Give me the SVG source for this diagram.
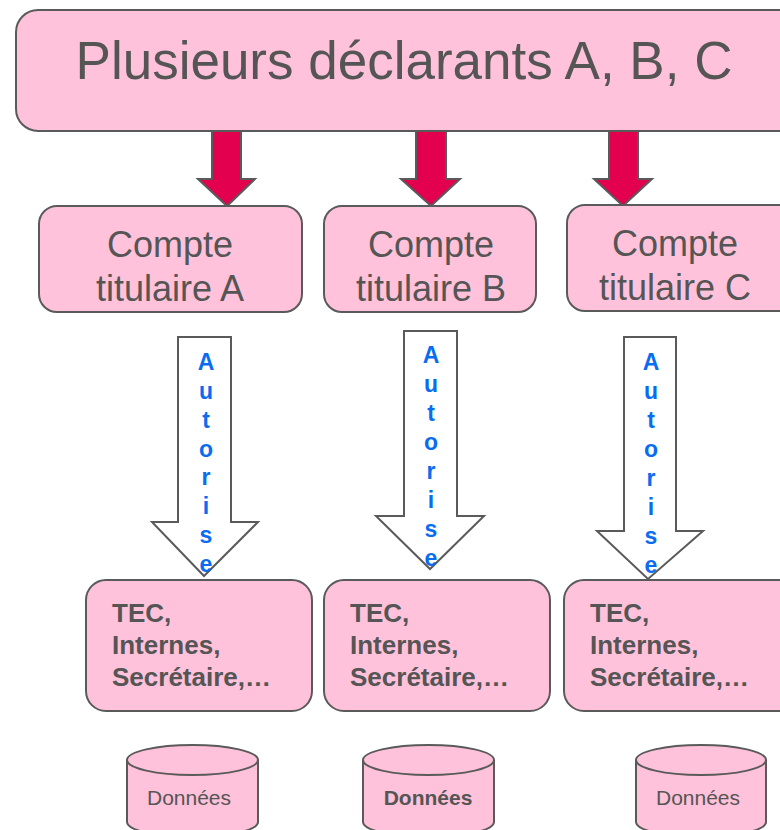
<svg xmlns="http://www.w3.org/2000/svg" width="780" height="830" viewBox="0 0 780 830">
<style>
.box{fill:#FFC2DA;stroke:#5a5a5a;stroke-width:2}
.red{fill:#E2004F;stroke:#5a5a5a;stroke-width:2;stroke-linejoin:miter}
.hol{fill:#ffffff;stroke:#5a5a5a;stroke-width:2}
.t{font-family:"Liberation Sans",Arial,sans-serif;fill:#555555}
.big{font-size:53px}
.mid{font-size:36px;text-anchor:middle}
.bold{font-size:26px;font-weight:bold}
.aut{font-family:"Liberation Sans",Arial,sans-serif;fill:#0A6CF0;font-size:23px;font-weight:bold;text-anchor:middle}
.db{font-size:21px;text-anchor:middle}
</style>
<rect width="780" height="830" fill="#ffffff"/>
<g id="declarants">
<rect class="box" x="16" y="10" width="786" height="121" rx="22"/>
<text class="t big" x="404" y="79" text-anchor="middle">Plusieurs déclarants A, B, C</text>
</g>
<g id="connectors">
<polygon class="red" points="212,131 241,131 241,179 255,179 227,206 198,179 212,179"/>
<polygon class="red" points="416,131 446,131 446,179 460,179 431,206 401,179 416,179"/>
<polygon class="red" points="609,131 638,131 638,179 652,179 623,206 594,179 609,179"/>
<polygon class="hol" points="178,337 231,337 231,522 258,522 204,576 152,522 178,522"/>
<polygon class="hol" points="404,331 457,331 457,516 484,516 430,569 376,516 404,516"/>
<polygon class="hol" points="624,337 676,337 676,531 703,531 648,579 597,531 624,531"/>
</g>
<g id="autorise-a">
<text class="aut" x="206"><tspan x="206" y="370">A</tspan><tspan x="206" y="399">u</tspan><tspan x="206" y="428">t</tspan><tspan x="206" y="457">o</tspan><tspan x="206" y="485">r</tspan><tspan x="206" y="514">i</tspan><tspan x="206" y="543">s</tspan><tspan x="206" y="572">e</tspan></text>
</g>
<g id="autorise-b">
<text class="aut" x="431"><tspan x="431" y="363">A</tspan><tspan x="431" y="392">u</tspan><tspan x="431" y="421">t</tspan><tspan x="431" y="450">o</tspan><tspan x="431" y="479">r</tspan><tspan x="431" y="508">i</tspan><tspan x="431" y="537">s</tspan><tspan x="431" y="566">e</tspan></text>
</g>
<g id="autorise-c">
<text class="aut" x="651"><tspan x="651" y="370">A</tspan><tspan x="651" y="399">u</tspan><tspan x="651" y="428">t</tspan><tspan x="651" y="457">o</tspan><tspan x="651" y="486">r</tspan><tspan x="651" y="515">i</tspan><tspan x="651" y="544">s</tspan><tspan x="651" y="573">e</tspan></text>
</g>
<g id="compte-a">
<rect class="box" x="39" y="206" width="263" height="106" rx="18"/>
<text class="t mid" x="170" y="257">Compte</text>
<text class="t mid" x="170" y="301">titulaire A</text>
</g>
<g id="compte-b">
<rect class="box" x="324" y="206" width="212" height="106" rx="18"/>
<text class="t mid" x="431" y="257">Compte</text>
<text class="t mid" x="431" y="301">titulaire B</text>
</g>
<g id="compte-c">
<rect class="box" x="567" y="205" width="235" height="106" rx="18"/>
<text class="t mid" x="675" y="256">Compte</text>
<text class="t mid" x="675" y="300">titulaire C</text>
</g>
<g id="users-a">
<rect class="box" x="86" y="580" width="226" height="131" rx="20"/>
<text class="t bold" x="112" y="622">TEC,</text>
<text class="t bold" x="112" y="654">Internes,</text>
<text class="t bold" x="112" y="686">Secrétaire,…</text>
</g>
<g id="users-b">
<rect class="box" x="324" y="580" width="226" height="131" rx="20"/>
<text class="t bold" x="350" y="622">TEC,</text>
<text class="t bold" x="350" y="654">Internes,</text>
<text class="t bold" x="350" y="686">Secrétaire,…</text>
</g>
<g id="users-c">
<rect class="box" x="564" y="580" width="238" height="131" rx="20"/>
<text class="t bold" x="590" y="622">TEC,</text>
<text class="t bold" x="590" y="654">Internes,</text>
<text class="t bold" x="590" y="686">Secrétaire,…</text>
</g>
<g id="donnees-a">
<path class="box" d="M127,760 L127,822 A65.5,15 0 0 0 258,822 L258,760 A65.5,15 0 0 0 127,760 Z"/>
<path d="M127,760 A65.5,15 0 0 0 258,760" fill="none" stroke="#5a5a5a" stroke-width="2"/>
<text class="t db" x="189" y="805">Données</text>
</g>
<g id="donnees-b">
<path class="box" d="M363,760 L363,822 A65.5,15 0 0 0 494,822 L494,760 A65.5,15 0 0 0 363,760 Z"/>
<path d="M363,760 A65.5,15 0 0 0 494,760" fill="none" stroke="#5a5a5a" stroke-width="2"/>
<text class="t db" x="428" y="805" font-weight="bold">Données</text>
</g>
<g id="donnees-c">
<path class="box" d="M636,760 L636,822 A65,15 0 0 0 766,822 L766,760 A65,15 0 0 0 636,760 Z"/>
<path d="M636,760 A65,15 0 0 0 766,760" fill="none" stroke="#5a5a5a" stroke-width="2"/>
<text class="t db" x="698" y="805">Données</text>
</g>
</svg>
